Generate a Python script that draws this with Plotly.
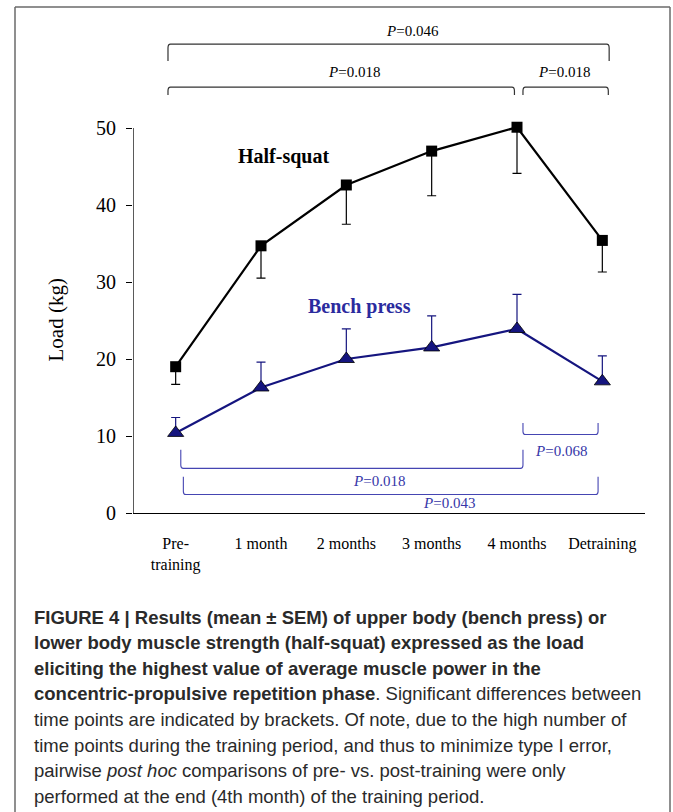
import plotly.graph_objects as go

# ---------------- data ----------------
categories = ["Pre-<br>training", "1 month", "2 months", "3 months", "4 months", "Detraining"]
half_squat = [19.0, 34.7, 42.6, 47.0, 50.1, 35.4]
half_squat_sem = [2.3, 4.2, 5.1, 5.8, 6.0, 4.1]
bench_press = [10.4, 16.3, 20.0, 21.5, 23.9, 17.1]
bench_press_sem = [2.0, 3.3, 3.9, 4.1, 4.5, 3.3]
y_ticks = [0, 10, 20, 30, 40, 50]

# significance brackets: (x_start, x_end, y_bar, y_tip, label, label_x, label_y)
top_brackets = [
    (-0.09, 5.08, 60.9, 58.7, "<i>P</i>=0.046", 2.78, 62.6),
    (-0.09, 3.97, 55.3, 54.3, "<i>P</i>=0.018", 2.09, 57.3),
    (4.07, 5.07, 55.3, 54.3, "<i>P</i>=0.018", 4.55, 57.3),
]
bench_brackets = [
    (4.07, 4.95, 10.2, 11.7, "<i>P</i>=0.068", 4.51, 8.0),
    (0.06, 4.07, 5.8, 8.2, "<i>P</i>=0.018", 2.38, 4.2),
    (0.09, 4.95, 2.4, 4.7, "<i>P</i>=0.043", 3.20, 1.3),
]

caption_lines = [
    "<b>FIGURE 4 | Results (mean ± SEM) of upper body (bench press) or</b>",
    "<b>lower body muscle strength (half-squat) expressed as the load</b>",
    "<b>eliciting the highest value of average muscle power in the</b>",
    "<b>concentric-propulsive repetition phase</b>. Significant differences between",
    "time points are indicated by brackets. Of note, due to the high number of",
    "time points during the training period, and thus to minimize type I error,",
    "pairwise <i>post hoc</i> comparisons of pre- vs. post-training were only",
    "performed at the end (4th month) of the training period.",
]

# ---------------- layout geometry ----------------
W, H = 673, 812
PL, PR, PT, PB = 133, 645, 20, 513   # plot area in pixels
Y_MAX = (PB - PT) / 7.7


def px_x(px):
    return (px - PL) / (PR - PL)


def px_y(py):
    return (PB - py) / (PB - PT)


SERIF = "Liberation Serif, Times New Roman, serif"
NAVY = "#15157f"
BLUE_TXT = "#3636a8"

x_idx = list(range(len(categories)))

fig = go.Figure()

fig.add_trace(go.Scatter(
    x=x_idx, y=half_squat, mode="lines+markers",
    line=dict(color="black", width=2.2),
    marker=dict(symbol="square", size=11, color="black"),
    error_y=dict(type="data", symmetric=False, array=[0] * 6,
                 arrayminus=half_squat_sem, color="black", thickness=1.2, width=4.5),
    showlegend=False, hoverinfo="skip",
))
fig.add_trace(go.Scatter(
    x=x_idx, y=bench_press, mode="lines+markers",
    line=dict(color=NAVY, width=2.2),
    marker=dict(symbol="triangle-up", size=14, color=NAVY,
                line=dict(color="black", width=0.8)),
    error_y=dict(type="data", symmetric=False, array=bench_press_sem,
                 arrayminus=[0] * 6, color=NAVY, thickness=1.2, width=4.5),
    showlegend=False, hoverinfo="skip",
))

shapes = []
annotations = []

# y axis line from 0 to 50
shapes.append(dict(type="line", xref="x", yref="y", x0=-0.5, x1=-0.5,
                   y0=0, y1=y_ticks[-1], line=dict(color="black", width=1.3)))

# top (half-squat) brackets
for x0, x1, yb, yt, lab, lx, ly in top_brackets:
    rx, ry = 0.03, 0.5
    path = (f"M {x0},{yt} L {x0},{yb - ry} Q {x0},{yb} {x0 + rx},{yb} "
            f"L {x1 - rx},{yb} Q {x1},{yb} {x1},{yb - ry} L {x1},{yt}")
    shapes.append(dict(type="path", xref="x", yref="y", path=path,
                       line=dict(color="#333333", width=1.2)))
    annotations.append(dict(x=lx, y=ly, xref="x", yref="y", text=lab, showarrow=False,
                            font=dict(family=SERIF, size=15, color="black")))

# bench press brackets
for x0, x1, yb, yt, lab, lx, ly in bench_brackets:
    rx, ry = 0.03, 0.4
    path = (f"M {x0},{yt} L {x0},{yb + ry} Q {x0},{yb} {x0 + rx},{yb} "
            f"L {x1 - rx},{yb} Q {x1},{yb} {x1},{yb + ry} L {x1},{yt}")
    shapes.append(dict(type="path", xref="x", yref="y", path=path,
                       line=dict(color="#4545b2", width=1.1)))
    annotations.append(dict(x=lx, y=ly, xref="x", yref="y", text=lab, showarrow=False,
                            font=dict(family=SERIF, size=15, color=BLUE_TXT)))

# series labels
annotations.append(dict(x=1.26, y=46.3, xref="x", yref="y", text="<b>Half-squat</b>",
                        showarrow=False, font=dict(family=SERIF, size=20, color="black")))
annotations.append(dict(x=2.15, y=26.8, xref="x", yref="y", text="<b>Bench press</b>",
                        showarrow=False, font=dict(family=SERIF, size=20, color="#2b2b9e")))

# y axis title
annotations.append(dict(x=px_x(55), y=25, xref="paper", yref="y", text="Load (kg)",
                        textangle=-90, showarrow=False, xanchor="center", yanchor="middle",
                        font=dict(family=SERIF, size=21, color="black")))

# frame around figure
frame = dict(color="#6a6a6a", width=1.5)
shapes.append(dict(type="line", xref="paper", yref="paper", x0=px_x(15), x1=px_x(15),
                   y0=px_y(7), y1=px_y(830), line=frame))
shapes.append(dict(type="line", xref="paper", yref="paper", x0=px_x(15), x1=px_x(670),
                   y0=px_y(7), y1=px_y(7), line=frame))
shapes.append(dict(type="line", xref="paper", yref="paper", x0=px_x(670), x1=px_x(670),
                   y0=px_y(7), y1=px_y(830), line=frame))

# caption
for i, line in enumerate(caption_lines):
    annotations.append(dict(x=px_x(32), y=px_y(617 + 25.6 * i), xref="paper", yref="paper",
                            xanchor="left", yanchor="middle", align="left", text=line,
                            showarrow=False,
                            font=dict(family="Liberation Sans, Arial, sans-serif",
                                      size=18.5, color="#2a2a2a")))

fig.update_layout(
    width=W, height=H,
    margin=dict(l=PL, r=W - PR, t=PT, b=H - PB, pad=0),
    paper_bgcolor="white", plot_bgcolor="white",
    shapes=shapes, annotations=annotations,
    xaxis=dict(range=[-0.5, 5.5], tickvals=x_idx, ticktext=categories,
               showgrid=False, zeroline=False, showline=True, linecolor="black",
               linewidth=1.3, ticks="", ticklabelstandoff=16,
               tickfont=dict(family=SERIF, size=16, color="black")),
    yaxis=dict(range=[0, Y_MAX], tickvals=y_ticks, showgrid=False, zeroline=False,
               showline=False, ticks="outside", ticklen=6, tickwidth=1.3,
               tickcolor="black", ticklabelstandoff=6,
               tickfont=dict(family=SERIF, size=20, color="black")),
)

fig.write_html(
    "out.html",
    config={"displayModeBar": False},
    post_script="document.body.style.margin='0';document.body.style.overflow='hidden';",
)
